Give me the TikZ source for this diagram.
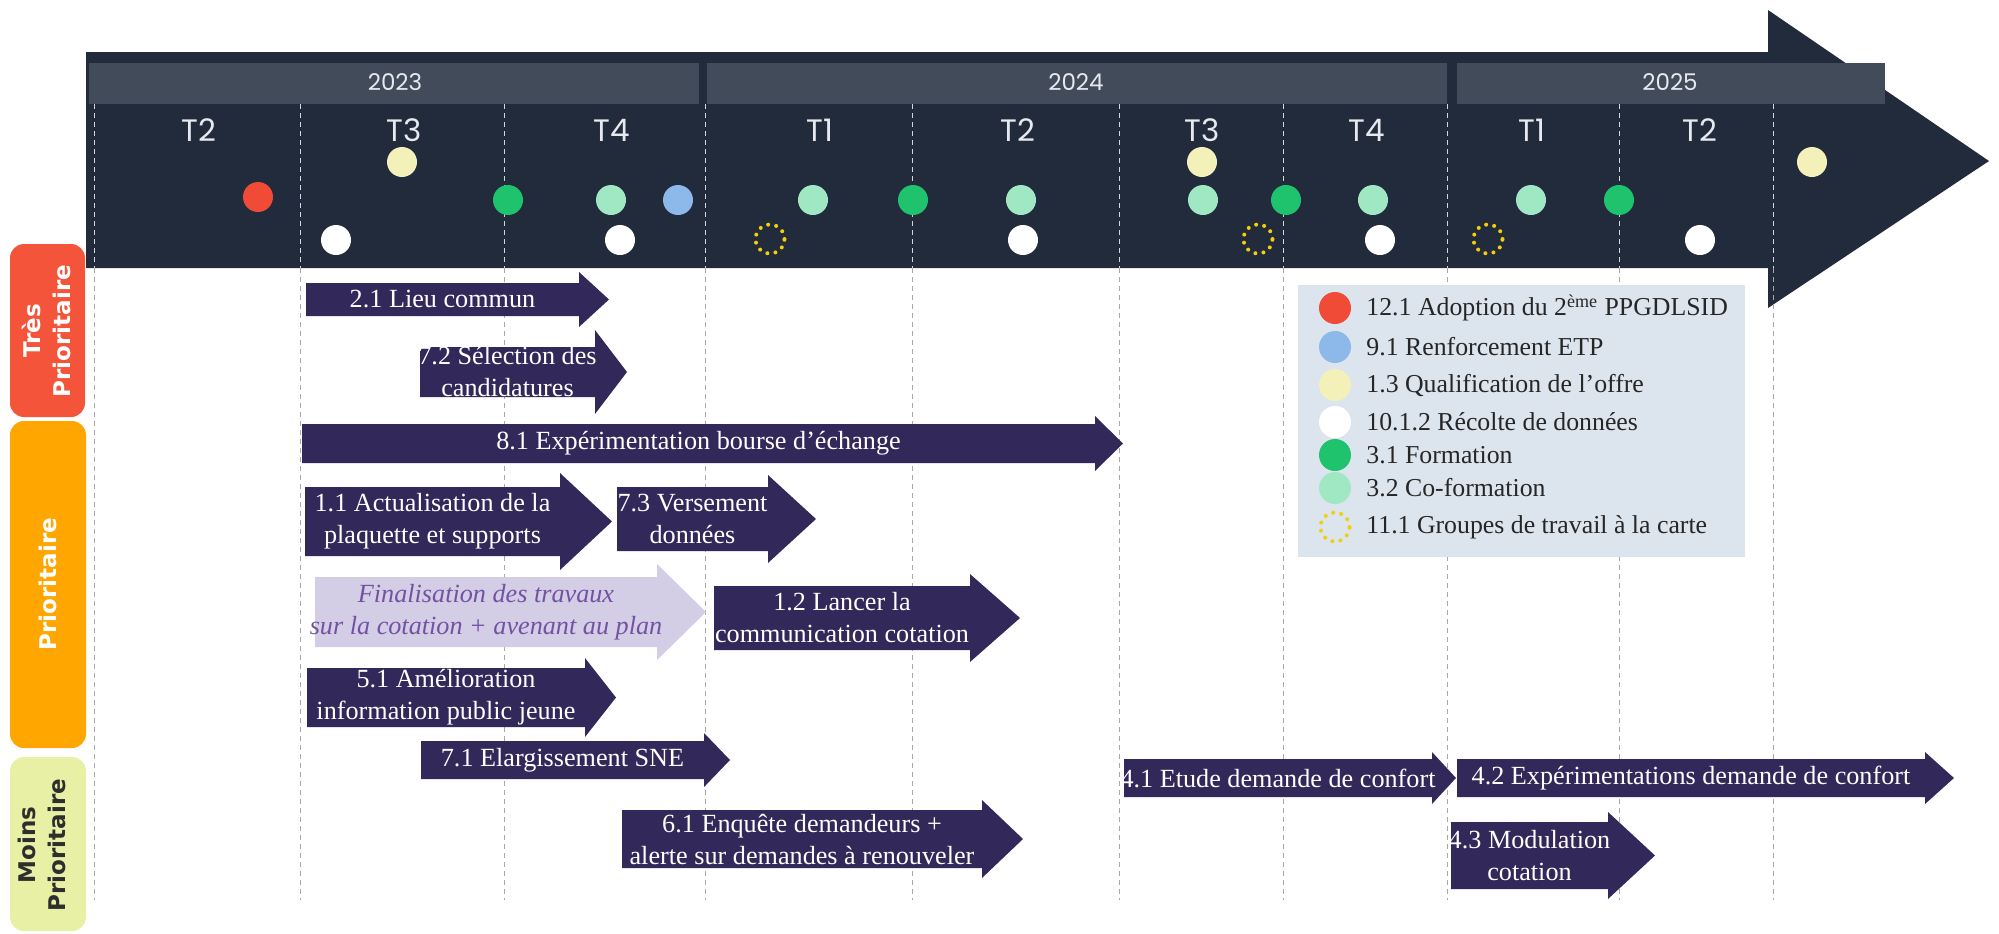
\documentclass[tikz,border=0pt]{standalone}
\usepackage{fontspec}
\setmainfont{Liberation Serif}
\newfontfamily\yrfont{Poppins}
\newfontfamily\prfont{DejaVu Sans}
\definecolor{bandcol}{HTML}{222B3B}
\definecolor{yearcol}{HTML}{414B5A}
\definecolor{yeartxt}{HTML}{E6EAF0}
\definecolor{arrcol}{HTML}{33285A}
\definecolor{fincol}{HTML}{D3CDE6}
\definecolor{fintxt}{HTML}{7352A2}
\definecolor{prred}{HTML}{F4553A}
\definecolor{prorange}{HTML}{FFA600}
\definecolor{pryellow}{HTML}{E8F0A6}
\definecolor{dred}{HTML}{F04B37}
\definecolor{dblue}{HTML}{8DB9EA}
\definecolor{dyellow}{HTML}{F3F1B9}
\definecolor{dgreen}{HTML}{1FC36E}
\definecolor{dmint}{HTML}{A0E8C4}
\definecolor{ringcol}{HTML}{F2CF0A}
\definecolor{legendbg}{HTML}{DCE4EE}
\definecolor{gridcol}{HTML}{A8A8A8}
\newcommand\taskarr[9]{%
  \fill[#8fill] (#2,#5) -- (#3,#5) -- (#3,{#5-#7}) -- (#4,{(#5+#6)/2}) -- (#3,{#6+#7}) -- (#3,#6) -- (#2,#6) -- cycle;
  \node[#8text] (#1) at ({(#2+#3)/2},{(#5+#6)/2}) {#9};
}
\tikzset{
  taskfill/.style={fill=arrcol},
  tasktext/.style={text=white, align=center, inner sep=0pt, font=\fontsize{13.1}{16}\selectfont},
  finfill/.style={fill=fincol},
  fintext/.style={text=fintxt, align=center, inner sep=0pt, font=\fontsize{13.1}{16}\selectfont\itshape},
  dot/.style={circle, minimum size=15pt, inner sep=0pt},
  ring/.style={circle, minimum size=14.5pt, inner sep=0pt, draw=ringcol, line width=2pt, dash pattern=on 0pt off 4.1pt, line cap=round},
  yeartext/.style={text=yeartxt, font=\yrfont\fontsize{11.5}{12}\selectfont, inner sep=0pt},
  qtext/.style={text=yeartxt, font=\yrfont\fontsize{15.5}{16}\selectfont, inner sep=0pt},
  prtext/.style={rotate=90, align=center, inner sep=0pt, font=\prfont\bfseries\fontsize{11.5}{15}\selectfont},
  legtext/.style={anchor=west, inner sep=0pt, text=black!85, font=\fontsize{12.9}{16}\selectfont},
  banddash/.style={draw=white!80!bandcol, line width=0.5pt, dash pattern=on 2.5pt off 2pt},
  griddash/.style={draw=gridcol, line width=0.5pt, dash pattern=on 2.5pt off 2pt},
}
\begin{document}
\begin{tikzpicture}[x=0.5pt,y=-0.5pt]
\useasboundingbox (0,0) rectangle (1999,933);
% timeline band
\fill[bandcol] (86,52) -- (1768,52) -- (1768,10) -- (1989,161) -- (1768,308) -- (1768,268) -- (86,268) -- cycle;
\fill[yearcol] (89,63) rectangle (699,104);
\fill[yearcol] (707,63) rectangle (1447,104);
\fill[yearcol] (1457,63) rectangle (1885,104);
\node[yeartext] (y23) at (395,82) {2023};
\node[yeartext] (y24) at (1076,82) {2024};
\node[yeartext] (y25) at (1670,82) {2025};
% grid lines
\foreach \gx in {94,300,504,705,912,1119,1283,1447,1619,1773} {
  \draw[banddash] (\gx,104) -- (\gx,268);
  \draw[griddash] (\gx,268) -- (\gx,900);
}
% quarters
\node[qtext] (q1) at (199,130) {T2};
\node[qtext] (q2) at (404,130) {T3};
\node[qtext] (q3) at (612,130) {T4};
\node[qtext] (q4) at (820,130) {T1};
\node[qtext] (q5) at (1018,130) {T2};
\node[qtext] (q6) at (1202,130) {T3};
\node[qtext] (q7) at (1367,130) {T4};
\node[qtext] (q8) at (1532,130) {T1};
\node[qtext] (q9) at (1700,130) {T2};
% dots in band
\node[dot, fill=dred] (d1) at (258,197) {};
\node[dot, fill=dyellow] (d2) at (402,162) {};
\node[dot, fill=white] (d3) at (336,240) {};
\node[dot, fill=dgreen] (d4) at (508,200) {};
\node[dot, fill=dmint] (d5) at (611,200) {};
\node[dot, fill=dblue] (d6) at (678,200) {};
\node[dot, fill=white] (d7) at (620,240) {};
\node[ring] (r1) at (770,239) {};
\node[dot, fill=dmint] (d8) at (813,200) {};
\node[dot, fill=dgreen] (d9) at (913,200) {};
\node[dot, fill=dmint] (d10) at (1021,200) {};
\node[dot, fill=white] (d11) at (1023,240) {};
\node[dot, fill=dyellow] (d12) at (1202,162) {};
\node[dot, fill=dmint] (d13) at (1203,200) {};
\node[ring] (r2) at (1258,239) {};
\node[dot, fill=dgreen] (d14) at (1286,200) {};
\node[dot, fill=dmint] (d15) at (1373,200) {};
\node[dot, fill=white] (d16) at (1380,240) {};
\node[ring] (r3) at (1488,239) {};
\node[dot, fill=dmint] (d17) at (1531,200) {};
\node[dot, fill=dgreen] (d18) at (1619,200) {};
\node[dot, fill=white] (d19) at (1700,240) {};
\node[dot, fill=dyellow] (d20) at (1812,162) {};
% priority labels
\fill[prred, rounded corners=7pt] (10,244) rectangle (85,417);
\fill[prorange, rounded corners=7pt] (10,421) rectangle (86,748);
\fill[pryellow, rounded corners=7pt] (10,757) rectangle (86,931);
\node[prtext, text=white] (pr1) at (46,331) {Très\\Prioritaire};
\node[prtext, text=white] (pr2) at (48,584) {Prioritaire};
\node[prtext, text=black!82] (pr3) at (42,845) {Moins\\Prioritaire};
% legend
\fill[legendbg] (1298,285) rectangle (1745,557);
\node[dot, fill=dred, minimum size=16pt] (l1) at (1335,308) {};
\node[dot, fill=dblue, minimum size=16pt] (l2) at (1335,347) {};
\node[dot, fill=dyellow, minimum size=16pt] (l3) at (1335,385) {};
\node[dot, fill=white, minimum size=16pt] (l4) at (1335,422) {};
\node[dot, fill=dgreen, minimum size=16pt] (l5) at (1335,455) {};
\node[dot, fill=dmint, minimum size=16pt] (l6) at (1335,488) {};
\node[ring] (l7) at (1335,527) {};
\node[legtext] (lt1) at (1366,308) {12.1 Adoption du 2\textsuperscript{ème} PPGDLSID};
\node[legtext] (lt2) at (1366,347) {9.1 Renforcement ETP};
\node[legtext] (lt3) at (1366,385) {1.3 Qualification de l’offre};
\node[legtext] (lt4) at (1366,422) {10.1.2 Récolte de données};
\node[legtext] (lt5) at (1366,455) {3.1 Formation};
\node[legtext] (lt6) at (1366,488) {3.2 Co-formation};
\node[legtext] (lt7) at (1366,527) {11.1 Groupes de travail à la carte};
% task arrows
\taskarr{a21}{306}{579}{609}{283}{316}{11}{task}{2.1 Lieu commun}
\taskarr{a72}{420}{595}{627}{347}{397}{17}{task}{7.2 Sélection des\\candidatures}
\taskarr{a81}{302}{1095}{1123}{424}{463}{8}{task}{8.1 Expérimentation bourse d’échange}
\taskarr{a11}{305}{560}{612}{487}{556}{14}{task}{1.1 Actualisation de la\\plaquette et supports}
\taskarr{a73}{617}{768}{816}{487}{551}{12}{task}{7.3 Versement\\données}
\taskarr{afin}{315}{657}{706}{577}{647}{13}{fin}{Finalisation des travaux\\sur la cotation + avenant au plan}
\taskarr{a12}{714}{970}{1020}{586}{650}{12}{task}{1.2 Lancer la\\communication cotation}
\taskarr{a51}{307}{585}{616}{668}{727}{10}{task}{5.1 Amélioration\\information public jeune}
\taskarr{a71}{421}{704}{730}{741}{779}{8}{task}{7.1 Elargissement SNE}
\taskarr{a61}{622}{982}{1023}{810}{868}{10}{task}{6.1 Enquête demandeurs +\\alerte sur demandes à renouveler}
\taskarr{a41}{1124}{1432}{1456}{759}{797}{7}{task}{4.1 Etude demande de confort}
\taskarr{a42}{1457}{1925}{1954}{759}{797}{7}{task}{4.2 Expérimentations demande de confort}
\taskarr{a43}{1451}{1608}{1655}{822}{889}{10}{task}{4.3 Modulation\\cotation}
\end{tikzpicture}
\end{document}
